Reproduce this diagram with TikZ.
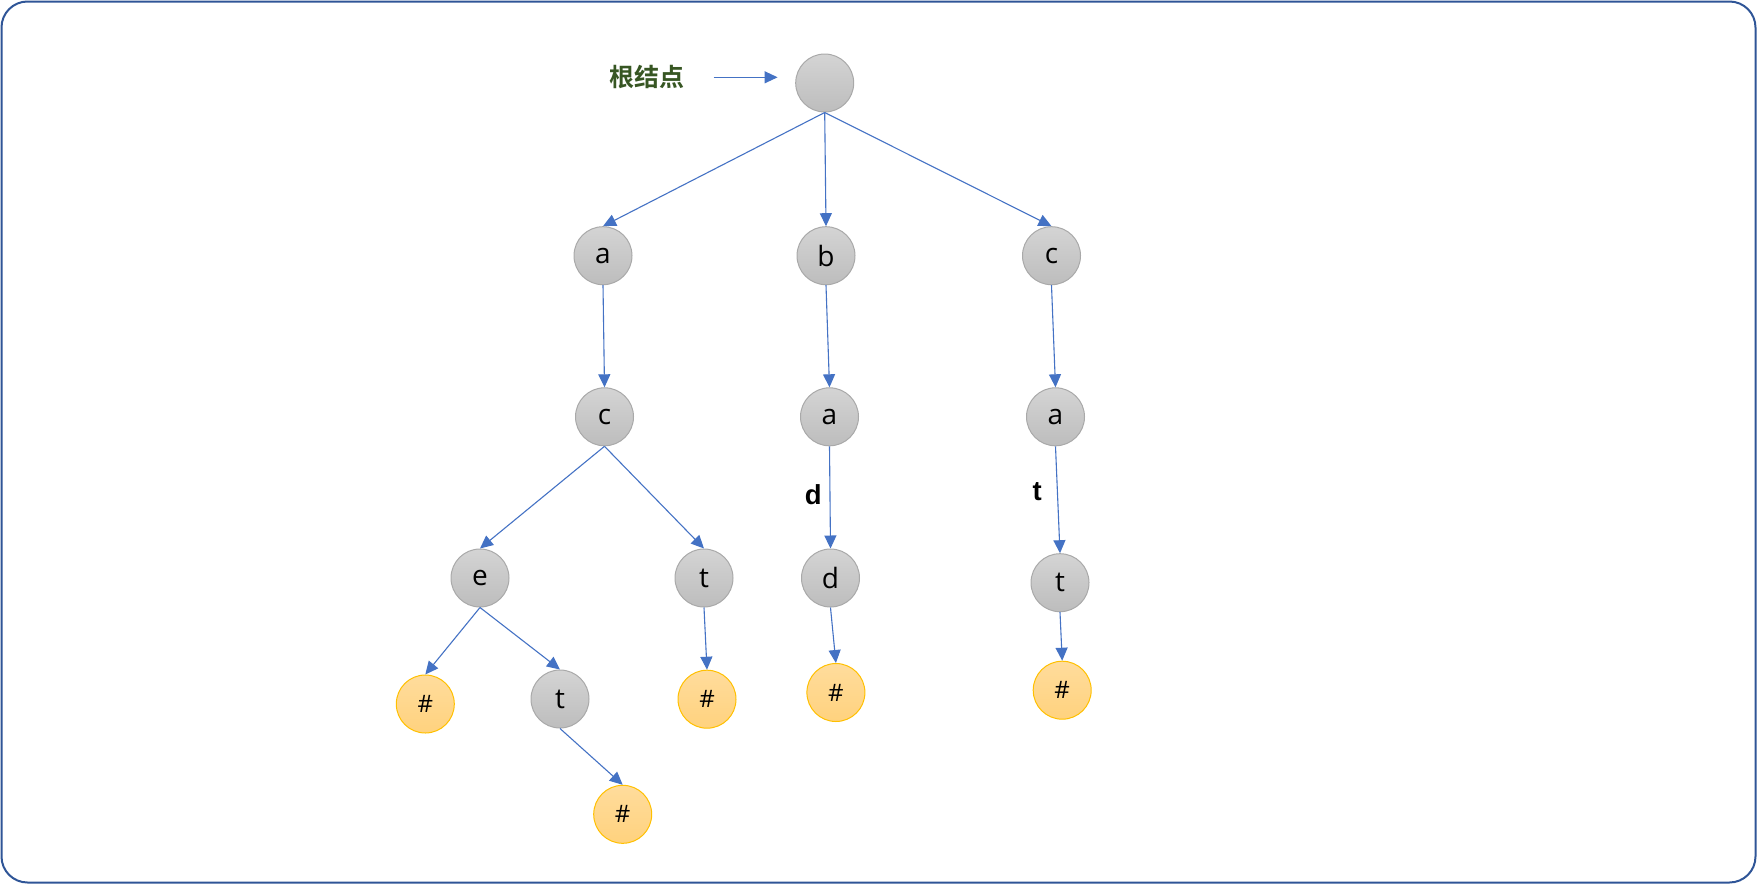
\documentclass[tikz,border=0pt]{standalone}
\usepackage{fontspec}
\setmainfont{Open Sans}
\newfontfamily\cjkbold[BoldFont={Noto Sans CJK SC Bold}]{Noto Sans CJK SC}
\newfontfamily\arialfont{Liberation Sans}
\usetikzlibrary{arrows.meta}
\definecolor{edgeblue}{HTML}{4472C4}
\definecolor{frameblue}{HTML}{2F5597}
\definecolor{graytop}{HTML}{D4D4D4}
\definecolor{graybot}{HTML}{BDBDBD}
\definecolor{grayline}{HTML}{A9A9A9}
\definecolor{orgtop}{HTML}{FFDC9C}
\definecolor{orgbot}{HTML}{FFD27E}
\definecolor{orgline}{HTML}{FFC000}
\definecolor{labgreen}{HTML}{375623}
\tikzset{
  gnode/.style={circle, minimum size=58pt, inner sep=0pt, draw=grayline, line width=1pt,
    top color=graytop, bottom color=graybot, font=\fontsize{28}{30}\selectfont},
  endnode/.style={circle, minimum size=58pt, inner sep=0pt, draw=orgline, line width=1pt,
    top color=orgtop, bottom color=orgbot, font=\fontsize{24}{26}\selectfont},
  edge/.style={draw=edgeblue, line width=1.1pt, -{Triangle[length=13pt,width=12pt]}},
  boldlab/.style={font=\arialfont\bfseries\fontsize{27.5}{29}\selectfont, inner sep=0pt}
}
\begin{document}
\begin{tikzpicture}[x=1pt,y=-1pt]
\useasboundingbox (0,0) rectangle (1757,884);
\draw[frameblue, line width=2pt, rounded corners=26pt] (1.5,1.5) rectangle (1755.5,882.5);

\node[gnode] (root) at (824.7,83) {};
\node[gnode] (a) at (603,255.7) {a};
\node[gnode] (b) at (826,255.7) {b};
\node[gnode] (c) at (1051.5,255.7) {c};
\node[gnode] (ac) at (604.5,416.8) {c};
\node[gnode] (ba) at (829.5,416.8) {a};
\node[gnode] (ca) at (1055.5,416.8) {a};
\node[gnode] (e) at (480,578) {e};
\node[gnode] (act) at (704,578) {t};
\node[gnode] (d) at (830.5,578) {d};
\node[gnode] (cat) at (1060,582.7) {t};
\node[endnode] (h1) at (425.3,704) {\#};
\node[gnode] (et) at (560,699) {t};
\node[endnode] (h2) at (622.7,814.3) {\#};
\node[endnode] (h3) at (707,699.2) {\#};
\node[endnode] (h4) at (835.9,692.5) {\#};
\node[endnode] (h5) at (1062.2,690.2) {\#};

\node[font=\cjkbold\bfseries\fontsize{25}{27}\selectfont, text=labgreen, inner sep=0pt] (rootlab) at (646.5,77.3) {根结点};
\coordinate (ls) at (713.7,77.3);
\coordinate (le) at (777.6,77.3);
\draw[edge] (ls) -- (le);

\node[boldlab] (dl) at (813.3,494.5) {d};
\node[boldlab] (tl) at (1037.3,491.7) {t};

\draw[edge] (root.south) -- (a.north);
\draw[edge] (root.south) -- (b.north);
\draw[edge] (root.south) -- (c.north);
\draw[edge] (a.south) -- (ac.north);
\draw[edge] (b.south) -- (ba.north);
\draw[edge] (c.south) -- (ca.north);
\draw[edge] (ac.south) -- (e.north);
\draw[edge] (ac.south) -- (act.north);
\draw[edge] (ba.south) -- (d.north);
\draw[edge] (ca.south) -- (cat.north);
\draw[edge] (e.south) -- (h1.north);
\draw[edge] (e.south) -- (et.north);
\draw[edge] (et.south) -- (h2.north);
\draw[edge] (act.south) -- (h3.north);
\draw[edge] (d.south) -- (h4.north);
\draw[edge] (cat.south) -- (h5.north);
\end{tikzpicture}
\end{document}
